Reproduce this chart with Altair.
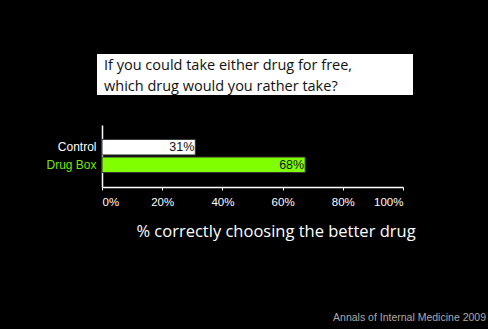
import altair as alt
import pandas as pd

groups = ["Control", "Drug Box"]
values = [31, 67.5]
labels = ["31%", "68%"]
colors = ["#ffffff", "#80ff00"]

question = ["If you could take either drug for free,", "which drug would you rather take?"]
x_title = "% correctly choosing the better drug"
source = "Annals of Internal Medicine 2009"

df = pd.DataFrame({"group": groups, "value": values, "label": labels, "color": colors})

yscale = alt.Scale(domain=groups, paddingInner=0.12, paddingOuter=0.82)

bars = alt.Chart(df).mark_bar(stroke="#333333", strokeWidth=1).encode(
    x=alt.X("value:Q", scale=alt.Scale(domain=[0, 100]),
            axis=alt.Axis(values=[0, 20, 40, 60, 80, 100], labelExpr="datum.value + '%'",
                          grid=False, domainColor="white", domainWidth=1.5, tickColor="white",
                          tickSize=3, labelColor="white", labelFont="Liberation Sans",
                          labelFontSize=11.5, labelPadding=6, title=None)),
    y=alt.Y("group:N", scale=yscale,
            axis=alt.Axis(ticks=False, domainColor="white", domainWidth=1.5,
                          labelColor={"expr": "datum.value == 'Drug Box' ? '#77e600' : '#ffffff'"},
                          labelFont="Liberation Sans", labelFontSize=12, labelPadding=6, title=None)),
    color=alt.Color("color:N", scale=None),
)

vals = alt.Chart(df).mark_text(align="right", dx=-1, font="Liberation Sans", fontSize=12.5,
                               color="#111111", baseline="middle").encode(
    x="value:Q", y=alt.Y("group:N", scale=yscale), text="label:N")

box = alt.Chart(df).mark_rect(color="white").encode(
    x=alt.value(-5), x2=alt.value(311), y=alt.value(-71), y2=alt.value(-30))

qtext = alt.Chart(pd.DataFrame({"t": ["\n".join(question)]})).mark_text(
    align="left", baseline="middle", font="Open Sans", fontSize=14.5, color="#111111",
    lineBreak="\n", lineHeight=21).encode(
    x=alt.value(2), y=alt.value(-59), text="t:N")

ttext = alt.Chart(pd.DataFrame({"t": [x_title]})).mark_text(
    align="center", baseline="middle", font="Open Sans", fontSize=16.5, color="white").encode(
    x=alt.value(174), y=alt.value(107), text="t:N")

stext = alt.Chart(pd.DataFrame({"t": [source]})).mark_text(
    align="right", baseline="middle", font="Liberation Sans", fontSize=10.5, color="#aaaaaa").encode(
    x=alt.value(384), y=alt.value(193), text="t:N")

chart = alt.layer(box, qtext, bars, vals, ttext, stext).properties(
    width=301, height=62,
    autosize=alt.AutoSizeParams(type="none"),
    padding={"left": 102, "top": 125, "right": 85, "bottom": 142},
    background="black",
).configure_view(stroke=None)

chart.save("out.html", embed_options={"renderer": "svg", "actions": False})
